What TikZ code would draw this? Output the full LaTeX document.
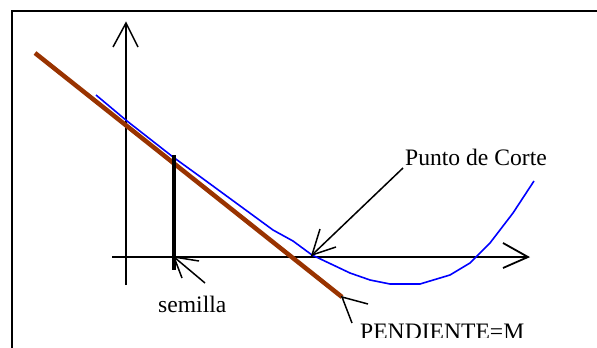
\documentclass[tikz,border=0pt]{standalone}
\usepackage{fontspec}
\setmainfont{Liberation Serif}
\definecolor{brownline}{HTML}{993300}
\begin{document}
\begin{tikzpicture}[x=1pt,y=-1pt,
  lbl/.style={anchor=base west,inner sep=0pt,font=\fontsize{23.6}{28}\selectfont},
  axis/.style={line width=1.5pt,black},
  pointer/.style={line width=1.5pt,black},
  curveline/.style={line width=1.6pt,blue,line join=round},
  slope/.style={line width=4.5pt,brownline},
  seed/.style={line width=3.4pt,black}]
\useasboundingbox (0,0) rectangle (597,348);
\clip (0,0) rectangle (597,348);
% frame
\draw[line width=2.4pt] (12,11) rectangle (605,360);
% axes
\coordinate (ybot) at (126,285);
\coordinate (ytip) at (126,23);
\coordinate (yl) at (113,47);
\coordinate (yr) at (138,47);
\draw[axis] (ybot) -- (ytip);
\draw[axis] (yl) -- (ytip) -- (yr);
\coordinate (xl) at (112,257);
\coordinate (xtip) at (528,257);
\coordinate (xu) at (503,243);
\coordinate (xd) at (503,268);
\draw[line width=2.1pt] (xl) -- (xtip);
\draw[axis,line width=1.8pt] (xu) -- (xtip) -- (xd);
% blue curve
\coordinate (cs) at (96,95);
\coordinate (corte) at (312,255);
\coordinate (ce) at (534,181);
\draw[curveline] (cs) -- (127,121) -- (173,157) -- (202,178) -- (273,230) -- (293,241) -- (corte)
  -- (350,273) -- (370,280) -- (390,284) -- (420,284) -- (450,275) -- (470,263) -- (490,243) -- (513,213) -- (ce);
% brown tangent
\coordinate (bs) at (35,53);
\coordinate (be) at (342,297);
\draw[slope] (bs) -- (be);
% seed line
\coordinate (st) at (174,155);
\coordinate (sb) at (174,270);
\draw[seed] (st) -- (sb);
% labels
\node[lbl] (punto) at (405,165) {Punto de Corte};
\node[lbl] (semilla) at (158,312) {semilla};
\begin{scope}
\clip (0,0) rectangle (597,337);
\node[lbl] (pend) at (360,339.5) {PENDIENTE=M};
\end{scope}
% pointer: semilla
\coordinate (s0) at (205,283);
\coordinate (s1) at (174,257);
\coordinate (sa) at (199,261);
\coordinate (sb2) at (182,278);
\draw[pointer] (s0) -- (s1);
\draw[pointer] (sa) -- (s1) -- (sb2);
% pointer: punto de corte
\coordinate (p0) at (403,168);
\draw[pointer] (p0) -- (corte);
\coordinate (pa) at (320,229);
\coordinate (pb) at (336,247);
\draw[pointer] (pa) -- (corte) -- (pb);
% pointer: pendiente
\coordinate (m1) at (368,304);
\coordinate (m2) at (352,323);
\draw[pointer] (m1) -- (be) -- (m2);
\end{tikzpicture}
\end{document}
